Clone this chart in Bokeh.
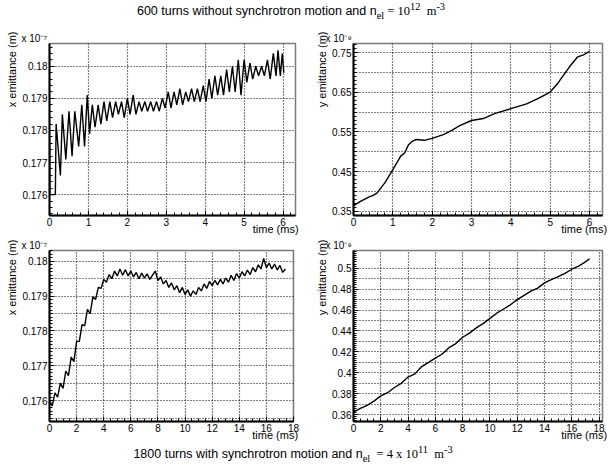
from bokeh.plotting import figure
from bokeh.models import Range1d, FixedTicker, Div, Title
from bokeh.layouts import column, row
from bokeh.embed import file_html
from bokeh.resources import INLINE

# ---------------- data ----------------
# Top-left: x emittance (x 1e-7 m), 600 turns, no synchrotron motion
tl_t = [0.00, 0.01, 0.15, 0.17, 0.28, 0.33, 0.42, 0.50, 0.58, 0.65, 0.75, 0.83, 0.90, 0.97,
        1.03, 1.10, 1.17, 1.25, 1.32, 1.40, 1.47, 1.55, 1.62, 1.70, 1.77, 1.85, 1.92, 2.00,
        2.07, 2.15, 2.22, 2.30, 2.37, 2.45, 2.52, 2.60, 2.67, 2.75, 2.82, 2.90, 2.97, 3.05,
        3.12, 3.20, 3.27, 3.35, 3.42, 3.50, 3.57, 3.65, 3.72, 3.80, 3.87, 3.95, 4.02, 4.10,
        4.17, 4.25, 4.32, 4.40, 4.47, 4.55, 4.62, 4.70, 4.77, 4.85, 4.92, 5.00, 5.07, 5.15,
        5.22, 5.30, 5.37, 5.45, 5.52, 5.60, 5.67, 5.75, 5.82, 5.87, 5.93, 5.98, 6.02]
tl_x = [0.17775, 0.1760, 0.1760, 0.1782, 0.1766, 0.1785, 0.1771, 0.1786, 0.1772, 0.1786,
        0.1775, 0.1788, 0.1775, 0.1791, 0.1779, 0.1788, 0.1781, 0.1788, 0.1782, 0.1789,
        0.1783, 0.1789, 0.1784, 0.1789, 0.1785, 0.1789, 0.1784, 0.1790, 0.1785, 0.1791,
        0.1785, 0.1789, 0.1786, 0.1789, 0.1786, 0.1789, 0.1786, 0.1789, 0.1786, 0.1790,
        0.1787, 0.1792, 0.1787, 0.1792, 0.1788, 0.1793, 0.1788, 0.1792, 0.1789, 0.1793,
        0.1789, 0.1793, 0.1789, 0.1794, 0.1789, 0.1796, 0.1790, 0.1797, 0.1791, 0.1797,
        0.1791, 0.1799, 0.1792, 0.1800, 0.1792, 0.1802, 0.1791, 0.1802, 0.1795, 0.1801,
        0.1796, 0.1800, 0.1797, 0.1800, 0.1797, 0.1802, 0.1796, 0.1804, 0.1797, 0.1805,
        0.1797, 0.1804, 0.1798]

# Top-right: y emittance (x 1e-9 m)
tr_t = [0.0, 0.2, 0.4, 0.5, 0.6, 0.8, 1.0, 1.1, 1.2, 1.3, 1.4, 1.5, 1.6, 1.8, 2.0, 2.3,
        2.5, 2.7, 3.0, 3.3, 3.6, 4.0, 4.4, 4.7, 5.0, 5.2, 5.5, 5.7, 5.85, 6.0]
tr_y = [0.364, 0.376, 0.386, 0.390, 0.396, 0.422, 0.455, 0.472, 0.489, 0.497, 0.518, 0.527,
        0.531, 0.529, 0.534, 0.544, 0.554, 0.566, 0.579, 0.584, 0.597, 0.609, 0.621, 0.635,
        0.651, 0.674, 0.716, 0.740, 0.745, 0.754]

# Bottom-left: x emittance (x 1e-7 m), 1800 turns with synchrotron motion
bl_t = [0.0, 0.2, 0.4, 0.6, 0.8, 1.0, 1.2, 1.4, 1.6, 1.8, 2.0, 2.2, 2.4, 2.6, 2.8, 3.0,
        3.2, 3.4, 3.6, 3.8, 4.0, 4.2, 4.4, 4.6, 4.8, 5.0, 5.2, 5.4, 5.6, 5.8, 6.0, 6.2,
        6.4, 6.6, 6.8, 7.0, 7.2, 7.4, 7.6, 7.8, 8.0, 8.2, 8.4, 8.6, 8.8, 9.0, 9.2, 9.4,
        9.6, 9.8, 10.0, 10.2, 10.4, 10.6, 10.8, 11.0, 11.2, 11.4, 11.6, 11.8, 12.0, 12.2,
        12.4, 12.6, 12.8, 13.0, 13.2, 13.4, 13.6, 13.8, 14.0, 14.2, 14.4, 14.6, 14.8, 15.0,
        15.2, 15.4, 15.6, 15.8, 16.0, 16.2, 16.4, 16.6, 16.8, 17.0, 17.2, 17.4]
bl_x = [0.17600, 0.17585, 0.17622, 0.17610, 0.17650, 0.17635, 0.17685, 0.17672, 0.17725,
        0.17712, 0.17770, 0.17770, 0.17818, 0.17815, 0.17862, 0.17850, 0.17898, 0.17890,
        0.17925, 0.17922, 0.17948, 0.17940, 0.17962, 0.17950, 0.17972, 0.17958, 0.17978,
        0.17960, 0.17976, 0.17958, 0.17972, 0.17955, 0.17968, 0.17950, 0.17966, 0.17952,
        0.17964, 0.17948, 0.17960, 0.17972, 0.17945, 0.17955, 0.17935, 0.17945, 0.17925,
        0.17938, 0.17918, 0.17930, 0.17910, 0.17925, 0.17905, 0.17918, 0.17900, 0.17915,
        0.17905, 0.17925, 0.17915, 0.17935, 0.17922, 0.17942, 0.17930, 0.17945, 0.17932,
        0.17948, 0.17935, 0.17952, 0.17940, 0.17960, 0.17945, 0.17965, 0.17952, 0.17970,
        0.17958, 0.17975, 0.17962, 0.17982, 0.17970, 0.17990, 0.17978, 0.18008, 0.17982,
        0.17995, 0.17978, 0.17992, 0.17975, 0.17988, 0.17968, 0.17978]

# Bottom-right: y emittance (x 1e-9 m)
br_t = [0.0, 0.5, 1.0, 1.5, 2.0, 2.5, 3.0, 3.5, 4.0, 4.5, 5.0, 5.5, 6.0, 6.5, 7.0, 7.5,
        8.0, 8.5, 9.0, 9.5, 10.0, 10.5, 11.0, 11.5, 12.0, 12.5, 13.0, 13.5, 14.0, 14.5,
        15.0, 15.5, 16.0, 16.5, 17.0, 17.3]
br_y = [0.3625, 0.366, 0.369, 0.373, 0.378, 0.381, 0.386, 0.390, 0.396, 0.399, 0.406,
        0.410, 0.414, 0.418, 0.424, 0.428, 0.434, 0.438, 0.443, 0.447, 0.452, 0.457,
        0.461, 0.465, 0.470, 0.474, 0.478, 0.481, 0.486, 0.489, 0.492, 0.495, 0.499,
        0.502, 0.506, 0.509]

# tick labels / grids
tl_yticks = [0.176, 0.177, 0.178, 0.179, 0.180]
tr_yticks = [0.35, 0.45, 0.55, 0.65, 0.75]
tr_ygrid = [0.35, 0.40, 0.45, 0.50, 0.55, 0.60, 0.65, 0.70, 0.75]
bl_yticks = [0.176, 0.177, 0.178, 0.179, 0.180]
bl_ygrid = [0.1755, 0.176, 0.1765, 0.177, 0.1775, 0.178, 0.1785, 0.179, 0.1795, 0.180]
br_yticks = [0.36, 0.38, 0.40, 0.42, 0.44, 0.46, 0.48, 0.50]
br_ygrid = [0.36, 0.37, 0.38, 0.39, 0.40, 0.41, 0.42, 0.43, 0.44, 0.45, 0.46, 0.47,
            0.48, 0.49, 0.50]
top_xticks = [0, 1, 2, 3, 4, 5, 6]
bot_xticks = [0, 2, 4, 6, 8, 10, 12, 14, 16, 18]

FONT = "Liberation Sans"
NBSP = "\u00a0"


def minor_list(lo, hi, step):
    out = []
    v = lo
    while v <= hi + 1e-12:
        out.append(round(v, 6))
        v += step
    return out


def panel(t, v, xr, yr, xticks, xminor, yticks, yminor, ygrid, overrides, exp_txt,
          ylabel, fw, fh, bl, br, bt, bb, ylab_off, xpad):
    p = figure(output_backend="svg", toolbar_location=None, tools="",
               frame_width=fw, frame_height=fh,
               min_border_left=bl, min_border_right=br,
               min_border_top=bt, min_border_bottom=bb,
               x_range=Range1d(*xr), y_range=Range1d(*yr))
    p.background_fill_color = "white"
    p.border_fill_color = "white"
    p.outline_line_color = "#7a7a7a"
    p.outline_line_width = 1.5

    p.xaxis.ticker = FixedTicker(ticks=xticks, minor_ticks=xminor)
    p.yaxis.ticker = FixedTicker(ticks=yticks, minor_ticks=yminor)
    p.xgrid.ticker = FixedTicker(ticks=xticks)
    p.ygrid.ticker = FixedTicker(ticks=ygrid)
    for g in (p.xgrid[0], p.ygrid[0]):
        g.grid_line_color = "black"
        g.grid_line_dash = "1 2"
        g.grid_line_width = 1.2
    for ax in (p.xaxis[0], p.yaxis[0]):
        ax.axis_line_color = "black"
        ax.axis_line_width = 2
        ax.major_tick_in = 5
        ax.major_tick_out = 0
        ax.minor_tick_in = 3
        ax.minor_tick_out = 0
        ax.major_tick_line_color = "black"
        ax.minor_tick_line_color = "black"
        ax.major_label_text_font = FONT
        ax.major_label_text_font_size = "10px"
        ax.major_label_text_color = "black"
        ax.major_label_standoff = 2
    p.yaxis.major_label_overrides = overrides

    # x axis title at the right end, on the tick-label row
    xa = p.xaxis[0]
    xa.axis_label = "time (ms)" + NBSP * xpad
    xa.axis_label_align = "end"
    xa.axis_label_standoff = -6
    xa.axis_label_text_font = FONT
    xa.axis_label_text_font_size = "11px"
    xa.axis_label_text_font_style = "normal"
    xa.axis_label_text_color = "black"

    p.line(t, v, line_color="black", line_width=1.4)

    # exponent "x 10^-n"
    p.add_layout(Title(text="x 10" + exp_txt, align="left", offset=-28, standoff=0,
                       text_font=FONT, text_font_size="10px", text_font_style="normal",
                       text_color="black"), "above")
    # y axis title, aligned to the top end of the axis
    p.add_layout(Title(text=ylabel, align="right", offset=ylab_off, standoff=3,
                       text_font=FONT, text_font_size="11px", text_font_style="normal",
                       text_color="black"), "left")
    return p


p1 = panel(tl_t, tl_x, (0, 6.32), (0.17535, 0.18071), top_xticks, minor_list(0, 6.3, 0.2),
           tl_yticks, minor_list(0.1754, 0.1807, 0.0002), tl_yticks, {0.180: "0.18"},
           "\u207b\u2077", "x emittance (m)", 246, 172, 49, 5, 14, 20, -12, 13)
p2 = panel(tr_t, tr_y, (0, 6.33), (0.339, 0.7736), top_xticks, minor_list(0, 6.3, 0.2),
           tr_yticks, minor_list(0.34, 0.77, 0.01), tr_ygrid, {},
           "\u207b\u2079", "y emittance (m)", 249, 172, 53, 8, 14, 20, -12, 12)
p3 = panel(bl_t, bl_x, (0, 18.0), (0.1754, 0.18031), bot_xticks, minor_list(0, 18, 0.5),
           bl_yticks, minor_list(0.1755, 0.1803, 0.0001), bl_ygrid, {0.180: "0.18"},
           "\u207b\u2077", "x emittance (m)", 244, 171, 49, 7, 12, 20, -11, 12)
p4 = panel(br_t, br_y, (0, 18.25), (0.3535, 0.5169), bot_xticks, minor_list(0, 18, 0.5),
           br_yticks, minor_list(0.354, 0.516, 0.002), br_ygrid, {0.40: "0.4", 0.50: "0.5"},
           "\u207b\u2079", "y emittance (m)", 249, 171, 53, 8, 12, 20, -11, 12)

top_html = ('<div style="font-family:\'Liberation Sans\'; font-size:12.5px; color:black; '
            'text-align:center; width:582px; line-height:14px; padding-top:0px;">'
            '600 turns without synchrotron motion and n'
            '<sub style="font-family:\'Liberation Serif\'">el</sub>'
            '<span style="font-family:\'Liberation Serif\'"> = 10<sup>12</sup>&nbsp; '
            'm<sup>-3</sup></span></div>')
bot_html = ('<div style="font-family:\'Liberation Sans\'; font-size:12.5px; color:black; '
            'text-align:center; width:586px; line-height:14px; padding-top:0px;">'
            '1800 turns with synchrotron motion and n'
            '<sub style="font-family:\'Liberation Serif\'">el</sub>'
            '<span style="font-family:\'Liberation Serif\'">&nbsp; = 4 x 10<sup>11</sup>&nbsp; '
            'm<sup>-3</sup></span></div>')

d1 = Div(text=top_html, width=610, height=29, margin=(0, 0, 0, 0))
d2 = Div(text=bot_html, width=610, height=25, margin=(0, 0, 0, 0))

layout = column(d1, row(p1, p2, spacing=0), row(p3, p4, spacing=0), d2, spacing=0)

open("out.html", "w").write(file_html(layout, INLINE))
